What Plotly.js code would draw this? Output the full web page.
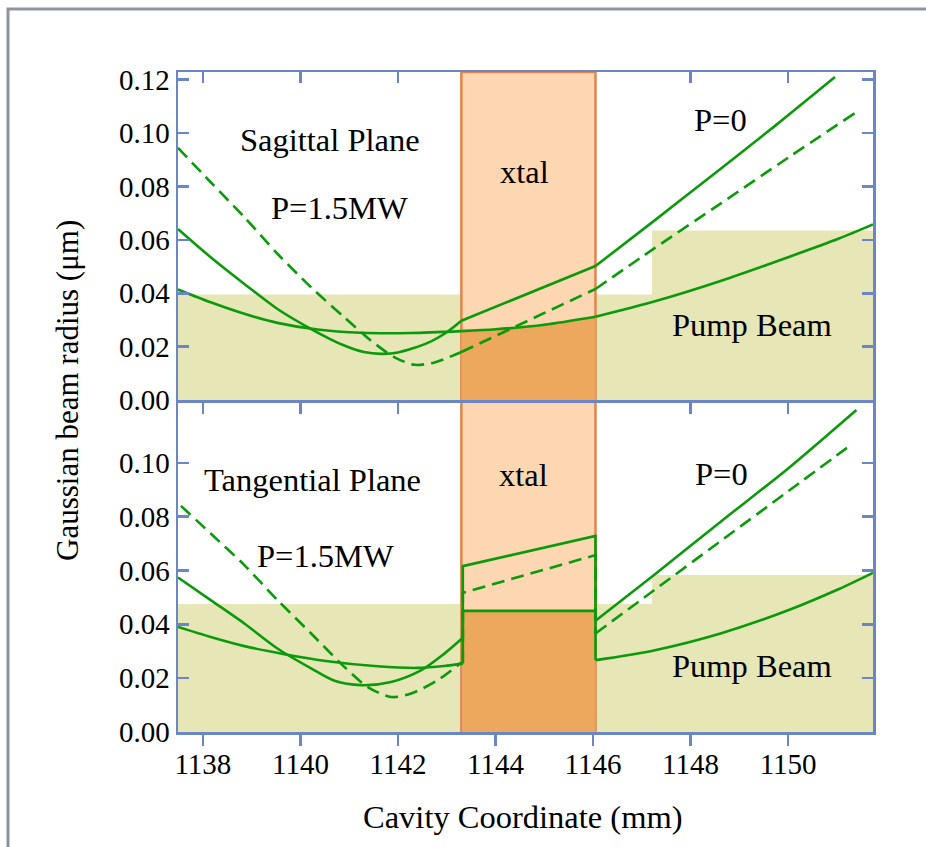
<!DOCTYPE html>
<html>
<head>
<meta charset="utf-8">
<script src="https://cdn.plot.ly/plotly-3.0.1.min.js"></script>
<style>html,body{margin:0;padding:0;background:#fff;}#chart{width:926px;height:847px;}</style>
</head>
<body>
<div id="chart"></div>
<script>
// ---------- data ----------
const xTicks = [1138, 1140, 1142, 1144, 1146, 1148, 1150];
const xTicksEdge = [1138, 1140, 1142, 1148, 1150];
const yTicksSag = [0, 0.02, 0.04, 0.06, 0.08, 0.10, 0.12];
const yTicksTan = [0, 0.02, 0.04, 0.06, 0.08, 0.10];

const xtalX = [1143.30, 1146.05];

// pump beam segments: start, end, radius
const pumpX0 = [1137.49, 1146.05, 1147.21];
const pumpX1 = [1143.30, 1147.21, 1151.74];
const pumpSagY = [0.0395, 0.0395, 0.0635];
const pumpTanY = [0.0475, 0.0475, 0.0583];

// ---- Sagittal plane ----
// curve A (solid)
const sagA_leftX = [1137.49, 1138.16, 1138.85, 1139.53, 1140.22, 1140.90, 1141.30, 1141.65, 1142.00, 1142.61, 1143.00, 1143.30];
const sagA_leftY = [0.0641, 0.0535, 0.0435, 0.0341, 0.0266, 0.0204, 0.0180, 0.0173, 0.0178, 0.0214, 0.0254, 0.0297];
const sagA_xtalX = [1143.30, 1146.05];
const sagA_xtalY = [0.0297, 0.0502];
const sagA_rightX = [1146.05, 1147.27, 1148.50, 1149.75, 1150.96];
const sagA_rightY = [0.0502, 0.0674, 0.0850, 0.1030, 0.1210];
// curve B (solid, flat)
const sagB_leftX = [1137.49, 1138.16, 1138.85, 1139.53, 1140.35, 1141.24, 1142.27, 1143.30];
const sagB_leftY = [0.0414, 0.0366, 0.0323, 0.0289, 0.0264, 0.0252, 0.0251, 0.0258];
const sagB_xtalX = [1143.30, 1144.00, 1145.00, 1146.05];
const sagB_xtalY = [0.0258, 0.0265, 0.0282, 0.0312];
const sagB_rightX = [1146.05, 1147.27, 1148.63, 1150.00, 1151.03, 1151.74];
const sagB_rightY = [0.0312, 0.0370, 0.0447, 0.0535, 0.0604, 0.0658];
// curve C (dashed)
const sagC_leftX = [1137.49, 1138.16, 1138.85, 1139.53, 1140.22, 1140.90, 1141.45, 1141.93, 1142.34, 1142.75, 1143.30];
const sagC_leftY = [0.0945, 0.0816, 0.0685, 0.0548, 0.0422, 0.0310, 0.0222, 0.0160, 0.0132, 0.0141, 0.0180];
const sagC_xtalX = [1143.30, 1146.05];
const sagC_xtalY = [0.0180, 0.0416];
const sagC_rightX = [1146.05, 1147.27, 1148.63, 1150.00, 1151.37];
const sagC_rightY = [0.0416, 0.0570, 0.0738, 0.0908, 0.1075];

// ---- Tangential plane ----
const tanA_leftX = [1137.49, 1138.16, 1138.85, 1139.53, 1140.22, 1140.70, 1141.24, 1141.86, 1142.47, 1142.95, 1143.33];
const tanA_leftY = [0.0574, 0.0490, 0.0403, 0.0310, 0.0236, 0.0190, 0.0174, 0.0186, 0.0229, 0.0291, 0.0350];
const tanA_xtalX = [1143.33, 1143.33, 1146.05, 1146.05];
const tanA_xtalY = [0.0350, 0.0616, 0.0728, 0.0413];
const tanA_rightX = [1146.05, 1147.27, 1148.63, 1150.00, 1151.40];
const tanA_rightY = [0.0413, 0.0586, 0.0783, 0.0979, 0.1196];

const tanB_leftX = [1137.49, 1138.16, 1138.85, 1139.67, 1140.56, 1141.58, 1142.40, 1142.95, 1143.33];
const tanB_leftY = [0.0390, 0.0353, 0.0319, 0.0289, 0.0263, 0.0244, 0.0238, 0.0245, 0.0254];
const tanB_xtalX = [1143.33, 1143.33, 1146.05, 1146.05];
const tanB_xtalY = [0.0254, 0.0450, 0.0450, 0.0267];
const tanB_rightX = [1146.05, 1147.27, 1148.63, 1150.00, 1151.03, 1151.74];
const tanB_rightY = [0.0267, 0.0304, 0.0367, 0.0452, 0.0530, 0.0591];

const tanC_leftX = [1137.55, 1138.16, 1138.85, 1139.53, 1140.22, 1140.90, 1141.38, 1141.86, 1142.27, 1142.81, 1143.30];
const tanC_leftY = [0.0840, 0.0737, 0.0620, 0.0490, 0.0366, 0.0242, 0.0167, 0.0130, 0.0143, 0.0192, 0.0258];
const tanC_xtalX = [1143.33, 1143.33, 1146.05, 1146.05];
const tanC_xtalY = [0.0258, 0.0517, 0.0657, 0.0366];
const tanC_rightX = [1146.05, 1147.27, 1148.63, 1150.00, 1151.33];
const tanC_rightY = [0.0366, 0.0529, 0.0711, 0.0894, 0.1072];

// ---------- styling ----------
const GREEN = '#0a9a0a';
const AX = '#6a86c6';
const SERIF = 'Liberation Serif, Times New Roman, Times, serif';
const XRANGE = [1137.49, 1151.74];

function seg(x, y, yaxis, dashed, smooth) {
  return {
    type: 'scatter', mode: 'lines', x: x, y: y, xaxis: yaxis === 'y2' ? 'x2' : 'x', yaxis: yaxis,
    line: {color: GREEN, width: 2.6, dash: dashed ? '13px,7px' : 'solid',
           shape: smooth ? 'spline' : 'linear', smoothing: 0.8},
    hoverinfo: 'skip', showlegend: false
  };
}
function darkFill(x, y, yaxis) {
  return {type: 'scatter', mode: 'lines', x: x, y: y, xaxis: yaxis === 'y2' ? 'x2' : 'x', yaxis: yaxis,
          fill: 'tozeroy', fillcolor: '#eca85d', line: {width: 0}, hoverinfo: 'skip', showlegend: false};
}

const traces = [
  darkFill(sagB_xtalX, sagB_xtalY, 'y2'),
  darkFill(tanB_xtalX, tanB_xtalY, 'y'),
  seg(sagA_leftX, sagA_leftY, 'y2', false, true),
  seg(sagA_xtalX, sagA_xtalY, 'y2', false, false),
  seg(sagA_rightX, sagA_rightY, 'y2', false, true),
  seg(sagB_leftX, sagB_leftY, 'y2', false, true),
  seg(sagB_xtalX, sagB_xtalY, 'y2', false, true),
  seg(sagB_rightX, sagB_rightY, 'y2', false, true),
  seg(sagC_leftX, sagC_leftY, 'y2', true, true),
  seg(sagC_xtalX, sagC_xtalY, 'y2', true, false),
  seg(sagC_rightX, sagC_rightY, 'y2', true, true),
  seg(tanA_leftX, tanA_leftY, 'y', false, true),
  seg(tanA_xtalX, tanA_xtalY, 'y', false, false),
  seg(tanA_rightX, tanA_rightY, 'y', false, true),
  seg(tanB_leftX, tanB_leftY, 'y', false, true),
  seg(tanB_xtalX, tanB_xtalY, 'y', false, false),
  seg(tanB_rightX, tanB_rightY, 'y', false, true),
  seg(tanC_leftX, tanC_leftY, 'y', true, true),
  seg(tanC_xtalX, tanC_xtalY, 'y', true, false),
  seg(tanC_rightX, tanC_rightY, 'y', true, true),
  {type: 'scatter', mode: 'lines', x: [], y: [], xaxis: 'x3', yaxis: 'y2', hoverinfo: 'skip', showlegend: false}
];

const YSAG = [0, 0.1229];
const YTAN = [0, 0.1233];

const shapes = [];
for (let i = 0; i < pumpX0.length; i++) {
  shapes.push({type: 'rect', xref: 'x2', yref: 'y2', x0: pumpX0[i], x1: pumpX1[i], y0: 0, y1: pumpSagY[i],
               fillcolor: '#e6e6b7', line: {width: 0}, layer: 'below'});
  shapes.push({type: 'rect', xref: 'x', yref: 'y', x0: pumpX0[i], x1: pumpX1[i], y0: 0, y1: pumpTanY[i],
               fillcolor: '#e6e6b7', line: {width: 0}, layer: 'below'});
}
shapes.push({type: 'rect', xref: 'x2', yref: 'y2', x0: xtalX[0], x1: xtalX[1], y0: YSAG[0], y1: YSAG[1],
             fillcolor: '#fdd6b2', line: {color: '#e0854d', width: 2.5}, layer: 'below'});
shapes.push({type: 'rect', xref: 'x', yref: 'y', x0: xtalX[0], x1: xtalX[1], y0: YTAN[0], y1: YTAN[1],
             fillcolor: '#fdd6b2', line: {color: '#e0854d', width: 2.5}, layer: 'below'});
shapes.push({type: 'rect', xref: 'paper', yref: 'paper', x0: -0.2446, x1: 1.2, y0: -0.3, y1: 1.0955,
             line: {color: '#8d939b', width: 3}, fillcolor: 'rgba(0,0,0,0)', layer: 'below'});

function axBase() {
  return {showgrid: false, zeroline: false, showline: true, linecolor: AX, linewidth: 2.5,
          tickcolor: AX, tickwidth: 2.5, ticklen: 11,
          tickfont: {family: SERIF, size: 29, color: '#000'}};
}

const layout = {
  width: 926, height: 847,
  margin: {l: 178, r: 53, t: 72, b: 115},
  paper_bgcolor: '#ffffff', plot_bgcolor: 'rgba(0,0,0,0)',
  showlegend: false,
  font: {family: SERIF, color: '#000', size: 29},
  xaxis: Object.assign(axBase(), {range: XRANGE, anchor: 'y', ticks: 'outside', tickmode: 'array',
          tickvals: xTicks, ticktext: xTicks.map(String), mirror: false, ticklabelstandoff: -6}),
  xaxis2: Object.assign(axBase(), {range: XRANGE, anchor: 'y2', side: 'bottom', ticks: 'outside',
          tickmode: 'array', tickvals: xTicksEdge, showticklabels: false, mirror: false}),
  xaxis3: Object.assign(axBase(), {range: XRANGE, anchor: 'y2', overlaying: 'x2', side: 'top',
          ticks: 'inside', tickmode: 'array', tickvals: xTicksEdge, showticklabels: false}),
  yaxis: Object.assign(axBase(), {domain: [0, 0.503], range: YTAN, anchor: 'x', ticks: 'inside',
          mirror: 'ticks', tickmode: 'array', tickvals: yTicksTan, ticktext: yTicksTan.map(v => v.toFixed(2))}),
  yaxis2: Object.assign(axBase(), {domain: [0.503, 1], range: YSAG, anchor: 'x2', ticks: 'inside',
          mirror: 'ticks', tickmode: 'array', tickvals: yTicksSag, ticktext: yTicksSag.map(v => v.toFixed(2))}),
  shapes: shapes,
  annotations: [
    {text: 'Sagittal Plane', xref: 'x2', yref: 'y2', x: 1140.60, y: 0.0976},
    {text: 'P=1.5MW', xref: 'x2', yref: 'y2', x: 1140.81, y: 0.0718},
    {text: 'xtal', xref: 'x2', yref: 'y2', x: 1144.60, y: 0.0853},
    {text: 'P=0', xref: 'x2', yref: 'y2', x: 1148.62, y: 0.1050},
    {text: 'Pump Beam', xref: 'x2', yref: 'y2', x: 1149.26, y: 0.0282},
    {text: 'Tangential Plane', xref: 'x', yref: 'y', x: 1140.24, y: 0.0936},
    {text: 'P=1.5MW', xref: 'x', yref: 'y', x: 1140.51, y: 0.0653},
    {text: 'xtal', xref: 'x', yref: 'y', x: 1144.58, y: 0.0954},
    {text: 'P=0', xref: 'x', yref: 'y', x: 1148.64, y: 0.0958},
    {text: 'Pump Beam', xref: 'x', yref: 'y', x: 1149.26, y: 0.0244},
    {text: 'Cavity Coordinate (mm)', xref: 'paper', yref: 'paper', x: 0.496, y: -0.129},
    {text: 'Gaussian beam radius (\u03bcm)', xref: 'paper', yref: 'paper', x: -0.160, y: 0.518, textangle: -90, size: 31}
  ].map(a => {
    const sz = a.size || 32.5; delete a.size;
    return Object.assign({showarrow: false, xanchor: 'center', yanchor: 'middle',
                          font: {family: SERIF, size: sz, color: '#000'}}, a);
  })
};

Plotly.newPlot('chart', traces, layout, {staticPlot: true, displayModeBar: false});
</script>
</body>
</html>
